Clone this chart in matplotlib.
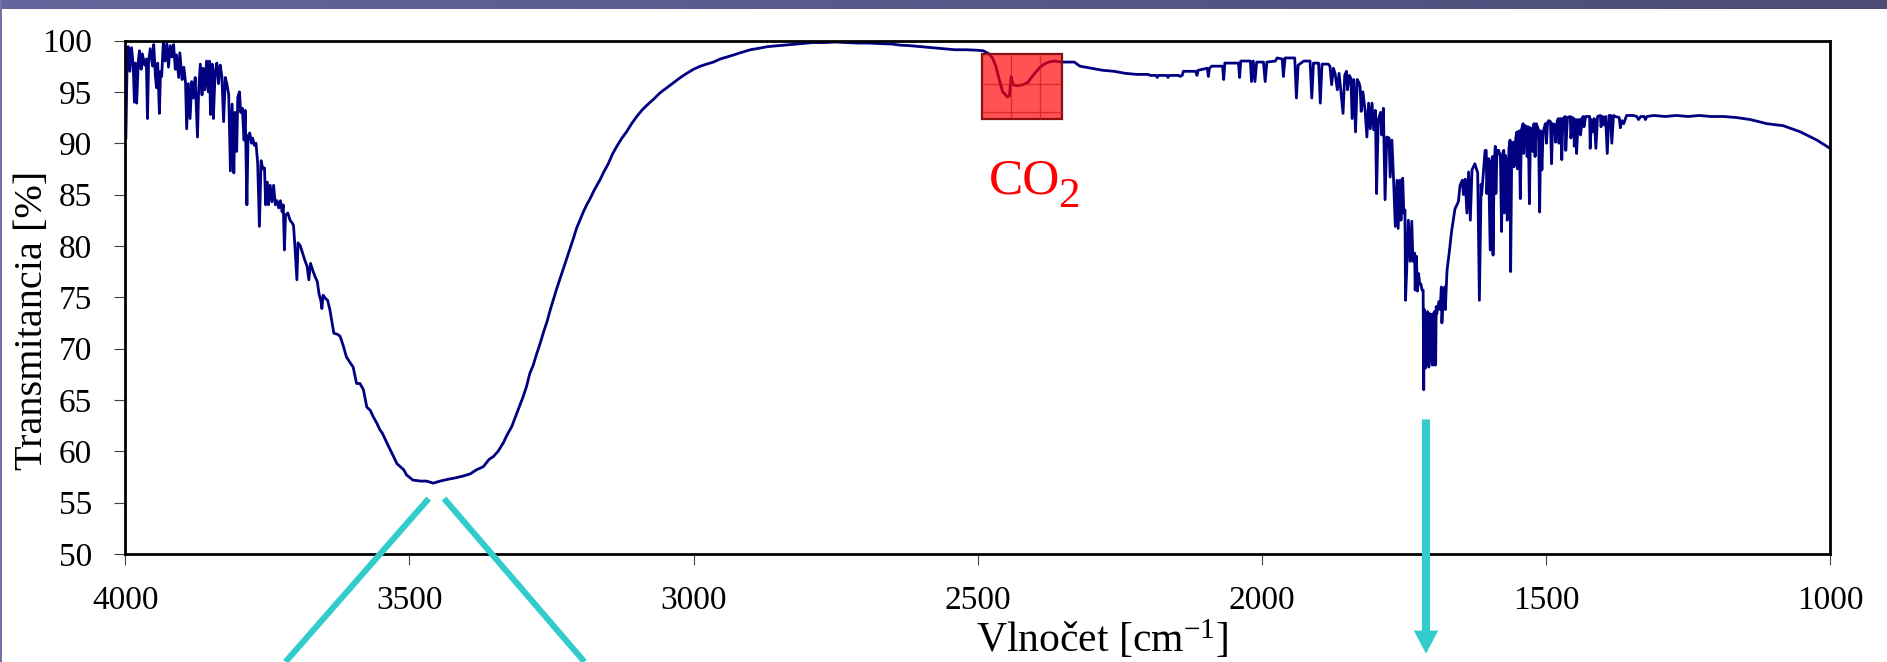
import matplotlib
matplotlib.use('Agg')
import matplotlib.pyplot as plt
import numpy as np
from matplotlib.patches import Rectangle
from matplotlib.colors import LinearSegmentedColormap

plt.rcParams['font.family'] = ['Liberation Serif', 'DejaVu Serif']
plt.rcParams['mathtext.fontset'] = 'custom'
plt.rcParams['mathtext.rm'] = 'Liberation Serif'
plt.rcParams['mathtext.it'] = 'Liberation Serif:italic'

# IR spectrum (wavenumber cm-1, transmittance %)
wavenumber = [
    3999, 3997, 3995, 3992, 3989, 3986, 3984, 3982, 3980, 3977, 3975, 3972, 3970, 3966, 3963, 3961,
    3959, 3956, 3952, 3950, 3947, 3945, 3943, 3940, 3938, 3936, 3933, 3930, 3927, 3924, 3921, 3918,
    3915, 3912, 3910, 3906, 3904, 3900, 3897, 3894, 3892, 3889, 3886, 3883, 3880, 3877, 3873, 3871,
    3868, 3865, 3863, 3860, 3857, 3854, 3852, 3850, 3847, 3845, 3842, 3839, 3836, 3833, 3830, 3827,
    3824, 3821, 3818, 3815, 3812, 3809, 3807, 3804, 3802, 3799, 3797, 3794, 3791, 3789, 3786, 3784,
    3781, 3778, 3776, 3773, 3770, 3767, 3764, 3761, 3758, 3755, 3753, 3750, 3748, 3745, 3742, 3739,
    3736, 3733, 3730, 3727, 3724, 3722, 3720, 3718, 3714, 3710, 3706, 3704, 3702, 3698, 3696, 3692,
    3688, 3684, 3680, 3677, 3674, 3670, 3666, 3662, 3659, 3656, 3654, 3652, 3648, 3644, 3640, 3636,
    3633, 3627, 3622, 3616, 3611, 3604, 3599, 3593, 3587, 3581, 3575, 3569, 3564, 3557, 3552, 3548,
    3542, 3536, 3528, 3522, 3510, 3505, 3494, 3480, 3470, 3458, 3446, 3430, 3420, 3405, 3393, 3382,
    3370, 3360, 3352, 3344, 3335, 3329, 3320, 3311, 3300, 3294, 3288, 3282, 3276, 3270, 3264, 3258,
    3252, 3246, 3241, 3235, 3229, 3223, 3217, 3211, 3206, 3200, 3194, 3188, 3182, 3176, 3170, 3164,
    3158, 3150, 3143, 3135, 3126, 3118, 3109, 3100, 3091, 3082, 3070, 3059, 3047, 3035, 3023, 3012,
    3000, 2988, 2977, 2965, 2953, 2941, 2929, 2918, 2900, 2889, 2870, 2850, 2830, 2811, 2790, 2771,
    2750, 2732, 2710, 2693, 2670, 2650, 2637, 2620, 2600, 2580, 2560, 2540, 2520, 2500, 2490, 2480,
    2474, 2468, 2462, 2456, 2452, 2448, 2444, 2441, 2438, 2430, 2420, 2412, 2404, 2398, 2390, 2383,
    2375, 2365, 2352, 2345, 2330, 2320, 2300, 2280, 2260, 2240, 2220, 2200,
    2196, 2186, 2184, 2182, 2167, 2165, 2163, 2146, 2144, 2140, 2138, 2116, 2114, 2112, 2096, 2094,
    2092, 2088, 2069, 2067, 2065, 2041, 2039, 2037, 2020, 2018, 2015, 2012, 2009, 1997, 1994, 1991,
    1976, 1973, 1964, 1962, 1959, 1942, 1939, 1936, 1926, 1915, 1912, 1909, 1900, 1897, 1894, 1883,
    1880, 1877, 1874, 1871, 1867, 1864, 1861, 1857, 1854, 1851, 1849, 1846, 1843, 1841, 1838, 1835,
    1832, 1829, 1827, 1825, 1822, 1818, 1815, 1812, 1809, 1806, 1803, 1800, 1798, 1795, 1791, 1789,
    1786, 1783, 1780, 1776, 1774, 1771, 1768, 1765, 1762, 1760, 1757, 1755, 1752, 1750, 1748, 1747,
    1745, 1742, 1739, 1736, 1734, 1731, 1730, 1728, 1726, 1724, 1722, 1720, 1718, 1716, 1715, 1714,
    1712, 1711, 1709, 1708, 1706, 1705, 1703, 1702, 1700, 1699, 1697, 1696, 1694, 1693, 1692, 1688,
    1686, 1684, 1683, 1680, 1678, 1677, 1674, 1670, 1666, 1660, 1654, 1651, 1647, 1645, 1642, 1639,
    1636, 1633, 1630, 1625, 1620, 1617, 1614, 1613, 1607, 1605, 1604, 1601, 1598, 1596, 1594, 1593,
    1591, 1589, 1588, 1586, 1583, 1580, 1578, 1576, 1574, 1573, 1571, 1569, 1568, 1565, 1563, 1562,
    1560, 1557, 1556, 1553, 1551, 1550, 1547, 1545, 1543, 1540, 1539, 1536, 1534, 1533, 1531, 1529,
    1527, 1525, 1523, 1521, 1519, 1517, 1513, 1511, 1509, 1507, 1505, 1501, 1499, 1497, 1495, 1492,
    1490, 1488, 1484, 1483, 1480, 1478, 1477, 1474, 1472, 1470, 1466, 1465, 1462, 1457, 1456, 1453,
    1451, 1450, 1447, 1446, 1443, 1440, 1439, 1436, 1434, 1433, 1430, 1423, 1422, 1420, 1418, 1415,
    1412, 1409, 1404, 1403, 1400, 1398, 1395, 1392, 1389, 1386, 1384, 1381, 1378, 1371, 1369, 1366,
    1363, 1358, 1346, 1340, 1337, 1333, 1327, 1325, 1322, 1310, 1290, 1270, 1250, 1230, 1210, 1187,
    1165, 1140, 1111, 1082, 1052, 1023, 1000,
]
transmittance = [
    90.5, 97.3, 99.4, 97.0, 99.3, 97.5, 94.0, 97.8, 93.9, 98.0, 99.0, 97.2, 98.7, 97.6, 98.2, 92.4,
    98.0, 99.2, 97.5, 99.6, 96.5, 95.4, 97.8, 92.9, 97.0, 96.5, 99.9, 98.0, 99.7, 97.4, 99.5, 98.4,
    99.6, 97.2, 98.6, 96.4, 98.8, 96.2, 97.4, 95.9, 91.4, 95.8, 92.4, 96.0, 94.4, 96.4, 90.6, 95.0,
    97.7, 94.7, 97.3, 95.2, 98.0, 95.0, 98.0, 92.8, 97.7, 92.4, 96.8, 97.8, 95.8, 97.6, 96.5, 92.1,
    96.4, 95.7, 94.7, 87.3, 93.8, 87.1, 93.0, 89.2, 94.5, 95.0, 93.0, 93.4, 90.3, 93.2, 84.0, 90.7,
    91.0, 90.0, 90.5, 89.8, 90.0, 88.0, 81.9, 88.3, 87.5, 87.6, 84.0, 86.2, 84.0, 85.9, 84.3, 85.9,
    84.0, 84.4, 83.7, 84.4, 83.3, 84.0, 79.6, 83.0, 83.2, 82.5, 82.2, 82.0, 80.4, 76.7, 80.3, 80.0,
    79.3, 78.6, 78.0, 76.7, 78.3, 77.6, 77.0, 76.5, 75.3, 74.7, 73.9, 75.2, 74.9, 74.7, 73.8, 72.5,
    71.5, 71.4, 71.2, 70.2, 69.2, 68.6, 68.2, 66.6, 66.6, 66.0, 64.3, 64.0, 63.4, 62.7, 62.1, 61.8,
    61.1, 60.4, 59.5, 58.8, 58.2, 57.7, 57.2, 57.1, 57.1, 56.9, 57.1, 57.3, 57.4, 57.6, 57.8, 58.2,
    58.5, 59.2, 59.5, 60.0, 60.8, 61.5, 62.4, 63.7, 65.3, 66.3, 67.6, 68.4, 69.5, 70.5, 71.6, 72.6,
    73.8, 74.9, 75.8, 76.8, 77.8, 78.8, 79.8, 80.8, 81.7, 82.5, 83.3, 84.0, 84.6, 85.3, 85.9, 86.5,
    87.2, 88.0, 88.9, 89.7, 90.5, 91.1, 91.9, 92.6, 93.2, 93.7, 94.3, 94.9, 95.4, 95.9, 96.4, 96.8,
    97.2, 97.5, 97.7, 97.9, 98.2, 98.4, 98.6, 98.8, 99.1, 99.2, 99.4, 99.5, 99.6, 99.7, 99.8, 99.8,
    99.85, 99.8, 99.75, 99.75, 99.7, 99.65, 99.55, 99.5, 99.4, 99.3, 99.2, 99.1, 99.1, 99.05, 99.0, 98.7,
    98.3, 97.5, 96.2, 95.0, 94.8, 94.5, 94.6, 96.5, 95.7, 95.6, 95.7, 95.9, 96.5, 96.9, 97.4, 97.7,
    97.9, 98.0, 97.9, 97.9, 97.9, 97.5, 97.3, 97.1, 97.0, 96.8, 96.7, 96.7,
    96.6, 96.6, 96.4, 96.6, 96.6, 96.4, 96.6, 96.6, 96.5, 96.6, 97.0, 97.0, 96.6, 97.1, 97.3, 96.5,
    97.3, 97.5, 97.5, 96.2, 97.8, 97.8, 96.4, 98.0, 98.0, 96.0, 98.0, 96.0, 97.9, 97.9, 96.0, 97.9,
    98.0, 98.3, 98.2, 96.5, 98.3, 98.3, 94.4, 97.6, 98.0, 98.0, 94.4, 97.8, 97.8, 93.9, 97.7, 97.7,
    97.5, 95.7, 97.3, 96.8, 95.2, 96.8, 95.2, 92.9, 96.6, 97.0, 95.2, 96.6, 96.3, 92.4, 96.2, 91.1,
    96.2, 95.9, 95.5, 93.1, 95.0, 93.1, 90.6, 93.9, 91.4, 93.9, 91.3, 93.2, 85.1, 92.3, 93.0, 90.8,
    93.4, 84.5, 90.6, 90.5, 86.7, 90.3, 86.4, 81.9, 86.4, 81.7, 86.4, 82.5, 86.6, 83.2, 83.5, 74.7,
    77.6, 82.5, 78.5, 82.4, 78.5, 79.3, 75.7, 79.0, 75.6, 77.3, 76.3, 76.3, 75.7, 75.7, 66.0, 73.8,
    68.1, 73.4, 68.7, 73.6, 68.2, 73.4, 68.9, 73.3, 68.4, 73.4, 68.4, 73.6, 68.4, 74.1, 73.4, 74.6,
    73.8, 76.0, 72.5, 75.8, 76.0, 73.8, 77.6, 79.4, 81.4, 83.6, 84.3, 85.9, 86.4, 85.0, 86.5, 83.2,
    87.2, 82.5, 87.4, 88.0, 87.1, 74.7, 86.0, 85.0, 89.3, 89.3, 85.1, 88.5, 79.6, 88.2, 88.7, 79.1,
    88.0, 89.7, 85.1, 89.3, 89.3, 88.7, 81.4, 89.0, 89.3, 83.2, 88.8, 87.9, 82.5, 89.5, 90.3, 77.5,
    90.0, 90.1, 87.7, 90.5, 91.1, 87.5, 91.2, 84.6, 91.3, 91.9, 89.0, 91.7, 91.6, 88.7, 91.6, 84.1,
    91.5, 89.7, 89.2, 91.9, 88.7, 91.9, 91.3, 83.3, 91.2, 87.4, 91.0, 91.9, 90.0, 92.0, 92.2, 92.1,
    88.0, 91.9, 91.8, 90.1, 92.2, 92.4, 90.0, 92.4, 88.4, 92.4, 92.6, 89.3, 92.5, 92.6, 90.5, 92.5,
    92.4, 89.7, 92.3, 89.0, 92.3, 92.3, 90.8, 92.5, 92.6, 91.6, 92.6, 92.6, 89.5, 92.3, 91.1, 92.4,
    89.5, 92.6, 92.7, 91.6, 92.6, 91.8, 92.6, 89.0, 92.7, 92.7, 90.0, 92.7, 92.6, 92.5, 91.5, 92.2,
    91.9, 92.7, 92.7, 92.6, 92.3, 92.6, 92.6, 92.3, 92.6, 92.7, 92.6, 92.7, 92.6, 92.7, 92.6, 92.6,
    92.5, 92.3, 91.9, 91.7, 91.1, 90.3, 89.5,
]

x_ticks = [4000, 3500, 3000, 2500, 2000, 1500, 1000]
y_ticks = [50, 55, 60, 65, 70, 75, 80, 85, 90, 95, 100]

# CO2 highlight box (x from, x to, y from, y to) and its inner grid
co2_box = (2351, 2492, 92.4, 98.7)
co2_grid_x = [2441, 2390]
co2_grid_y = [95.8, 93.0]

# cyan markers: V under the O-H band, arrow under the C=O band
v_left = ([3466, 3718], [55.4, 39.5])
v_right = ([3439, 3192], [55.4, 39.5])
arrow_x = 1711
arrow_from, arrow_to = 63.1, 40.3
cyan = '#33CCCC'

fig = plt.figure(figsize=(18.87, 6.62), dpi=100)
fig.patch.set_facecolor('white')

# purple slide band at the top, thin border at the left
band = fig.add_axes([0, 1 - 9 / 662, 1, 9 / 662])
band_cmap = LinearSegmentedColormap.from_list('band', ['#63659c', '#4c4c76'])
band.imshow(np.linspace(0, 1, 256)[None, :], aspect='auto', cmap=band_cmap)
band.axis('off')
fig.add_artist(Rectangle((0, 0), 2 / 1887, 1, transform=fig.transFigure,
                         color='#7172a8', lw=0))

ax = fig.add_axes([125.3 / 1887, 108 / 662, 1704.7 / 1887, 513.5 / 662])
ax.plot(wavenumber, transmittance, color='#000080', lw=2.0, zorder=2)

ax.set_xlim(4000, 1000)
ax.set_ylim(50, 100)
ax.set_xticks(x_ticks)
ax.set_yticks(y_ticks)
ax.tick_params(direction='out', length=8, width=0.8, color='#404040',
               labelsize=24, labelcolor='black')
ax.tick_params(axis='x', pad=15)
ax.tick_params(axis='y', pad=16)
for s in ax.spines.values():
    s.set_linewidth(2)
    s.set_color('black')

ax.set_xlabel('Vlnočet [cm$^{-1}$]', fontsize=30)
ax.xaxis.label.set_va('baseline')
ax.xaxis.set_label_coords(0.573, -0.191)
ax.set_ylabel('Transmitancia [%]', fontsize=29)
ax.yaxis.set_label_coords(-0.0434, 0.454)

# CO2 box
bx0, bx1, by0, by1 = co2_box
ax.add_patch(Rectangle((bx0, by0), bx1 - bx0, by1 - by0, facecolor='red', alpha=0.68,
                       edgecolor='none', zorder=3))
ax.add_patch(Rectangle((bx0, by0), bx1 - bx0, by1 - by0, facecolor='none',
                       edgecolor='#8B1010', lw=1.6, zorder=4))
ax.vlines(co2_grid_x, by0, by1, color='#d01818', lw=0.9, alpha=0.7, zorder=4)
ax.hlines(co2_grid_y, bx0, bx1, color='#d01818', lw=0.9, alpha=0.7, zorder=4)
ax.text(2481, 85.1, 'CO', color='red', fontsize=37, ha='left', va='baseline')
ax.text(2358, 83.8, '2', color='red', fontsize=31, ha='left', va='baseline')

# cyan annotations
ax.plot(*v_left, color=cyan, lw=4.4, solid_capstyle='butt', clip_on=False, zorder=5)
ax.plot(*v_right, color=cyan, lw=4.4, solid_capstyle='butt', clip_on=False, zorder=5)
arr = ax.annotate('', xy=(arrow_x, arrow_to), xytext=(arrow_x, arrow_from),
                  annotation_clip=False,
                  arrowprops=dict(arrowstyle='simple,head_length=0.83,head_width=0.88,tail_width=0.29',
                                  mutation_scale=20, color=cyan, lw=0,
                                  shrinkA=0, shrinkB=0))
arr.arrow_patch.set_clip_on(False)

fig.savefig('out.png', dpi=100)
